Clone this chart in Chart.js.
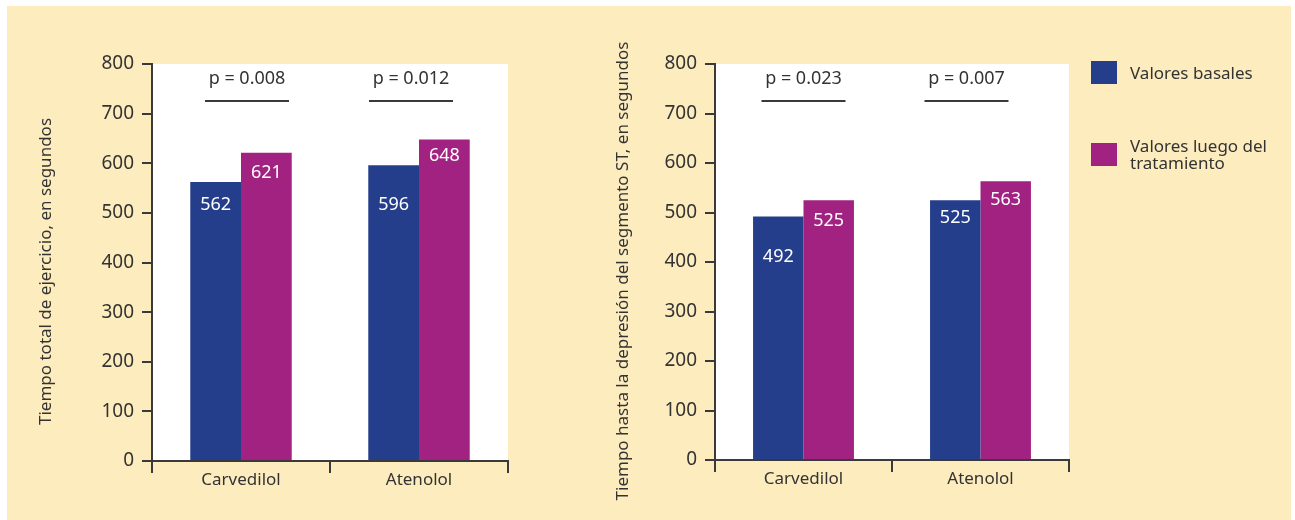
<!DOCTYPE html>
<html>
<head>
<meta charset="utf-8">
<script src="https://cdn.jsdelivr.net/npm/chart.js@4.4.1/dist/chart.umd.min.js"></script>
<style>
  html, body { margin: 0; padding: 0; background: #ffffff; }
  body { width: 1295px; height: 520px; position: relative; overflow: hidden; font-family: "Noto Sans", Lato, sans-serif; }
  .paper { position: absolute; left: 7px; top: 6px; width: 1284px; height: 514px; background: #fdecbe; }
  canvas { position: absolute; top: 0; }
  #exercise { left: 0; }
  #stDepression { left: 560px; }
  .legend { position: absolute; left: 1091px; top: 0; color: #333333; font-size: 17px; line-height: 17px; }
  .legend .item { position: absolute; left: 0; display: flex; align-items: center; width: 200px; }
  .legend .swatch { width: 26px; height: 23px; margin-right: 13px; flex: none; }
  .legend .text { max-width: 155px; }
</style>
</head>
<body>
<div class="paper"></div>
<canvas id="exercise" width="560" height="520"></canvas>
<canvas id="stDepression" width="540" height="520"></canvas>
<div class="legend" id="legend"></div>
<script>
const categories = ["Carvedilol", "Atenolol"];
const seriesNames = ["Valores basales", "Valores luego del tratamiento"];
const seriesColors = ["#243e8c", "#a22282"];

// tiempo total de ejercicio (s)
const exerciseBasal = [562, 596];
const exerciseAfter = [621, 648];
const exercisePValues = ["p = 0.008", "p = 0.012"];

// tiempo hasta la depresión del segmento ST (s)
const stBasal = [492, 525];
const stAfter = [525, 563];
const stPValues = ["p = 0.023", "p = 0.007"];

const yMin = 0, yMax = 800, yStep = 100;

const ink = "#333333";
const family = "'Noto Sans', Lato, sans-serif";

// white plot background
const plotBackground = {
    id: "plotBackground",
    beforeDraw(chart) {
        const { ctx, chartArea: a } = chart;
        ctx.save();
        ctx.fillStyle = "#ffffff";
        ctx.fillRect(a.left, a.top, a.right - a.left, a.bottom - a.top);
        ctx.restore();
    }
};

// value labels inside the bars
const barLabels = {
    id: "barLabels",
    afterDatasetsDraw(chart, args, opts) {
        const { ctx } = chart;
        ctx.save();
        ctx.fillStyle = "#ffffff";
        ctx.font = "18px " + family;
        ctx.textAlign = "center";
        ctx.textBaseline = "middle";
        chart.data.datasets.forEach((ds, di) => {
            chart.getDatasetMeta(di).data.forEach((bar, i) => {
                ctx.fillText(String(ds.data[i]), bar.x, bar.y + opts.offsets[di][i]);
            });
        });
        ctx.restore();
    }
};

// p-value brackets above each group
const pValues = {
    id: "pValues",
    afterDraw(chart, args, opts) {
        const { ctx, chartArea: a } = chart;
        const x = chart.scales.x;
        ctx.save();
        ctx.fillStyle = ink;
        ctx.strokeStyle = "#3a3a3a";
        ctx.lineWidth = 2;
        ctx.font = "18px " + family;
        ctx.textAlign = "center";
        ctx.textBaseline = "middle";
        opts.labels.forEach((txt, i) => {
            const cx = x.getPixelForValue(i) + opts.shift[i];
            ctx.fillText(txt, cx, a.top + 15);
            ctx.beginPath();
            ctx.moveTo(cx - 42, a.top + 37);
            ctx.lineTo(cx + 42, a.top + 37);
            ctx.stroke();
        });
        ctx.restore();
    }
};

// rotated y axis title, sits a little below the plot's middle
const yTitle = {
    id: "yTitle",
    afterDraw(chart, args, opts) {
        const { ctx, chartArea: a } = chart;
        ctx.save();
        ctx.translate(opts.x, (a.top + a.bottom) / 2 + opts.dy);
        ctx.rotate(-Math.PI / 2);
        ctx.fillStyle = ink;
        ctx.font = "17px " + family;
        ctx.textAlign = "center";
        ctx.textBaseline = "middle";
        ctx.fillText(opts.text, 0, 0);
        ctx.restore();
    }
};

function makeChart(id, basal, after, pLabels, title, opt) {
    return new Chart(document.getElementById(id), {
        type: "bar",
        data: {
            labels: categories,
            datasets: [
                { label: seriesNames[0], data: basal, backgroundColor: seriesColors[0] },
                { label: seriesNames[1], data: after, backgroundColor: seriesColors[1] }
            ]
        },
        options: {
            responsive: false,
            animation: false,
            events: [],
            barPercentage: 1,
            categoryPercentage: 0.57,
            layout: { padding: { left: 0, top: 64, right: opt.padRight, bottom: 0 } },
            plugins: {
                legend: { display: false },
                tooltip: { enabled: false },
                barLabels: { offsets: opt.labelOffsets },
                pValues: { labels: pLabels, shift: opt.pShift },
                yTitle: { text: title, x: opt.titleX, dy: 9 }
            },
            scales: {
                x: {
                    afterFit(scale) { scale.height = opt.xHeight; },
                    grid: { drawOnChartArea: false, drawTicks: true, tickLength: 12, color: "#3a3a3a", lineWidth: 2, offset: true },
                    border: { display: true, color: "#3a3a3a", width: 2 },
                    ticks: { color: ink, padding: -3, font: { family: family, size: 17 } }
                },
                y: {
                    min: yMin,
                    max: yMax,
                    afterFit(scale) { scale.width = opt.yWidth; },
                    grid: { drawOnChartArea: false, drawTicks: true, tickLength: 10, color: "#3a3a3a", lineWidth: 2 },
                    border: { display: true, color: "#3a3a3a", width: 2 },
                    ticks: { stepSize: yStep, color: ink, padding: 8, font: { family: family, size: 19 } }
                }
            }
        },
        plugins: [plotBackground, barLabels, pValues, yTitle]
    });
}

makeChart("exercise", exerciseBasal, exerciseAfter, exercisePValues,
    "Tiempo total de ejercicio, en segundos", {
        padRight: 52, yWidth: 152, xHeight: 59, titleX: 46,
        labelOffsets: [[23, 40], [20, 16]],
        pShift: [6, -8]
    });

makeChart("stDepression", stBasal, stAfter, stPValues,
    "Tiempo hasta la depresión del segmento ST, en segundos", {
        padRight: 31, yWidth: 155, xHeight: 60, titleX: 63,
        labelOffsets: [[40, 18], [21, 19]],
        pShift: [0, -14]
    });

// legend
const legend = document.getElementById("legend");
const legendTops = [61, 137];
seriesNames.forEach((name, i) => {
    const item = document.createElement("div");
    item.className = "item";
    item.style.top = legendTops[i] + "px";
    item.innerHTML = '<div class="swatch" style="background:' + seriesColors[i] + '"></div><div class="text"></div>';
    item.querySelector(".text").textContent = name;
    legend.appendChild(item);
});
</script>
</body>
</html>
